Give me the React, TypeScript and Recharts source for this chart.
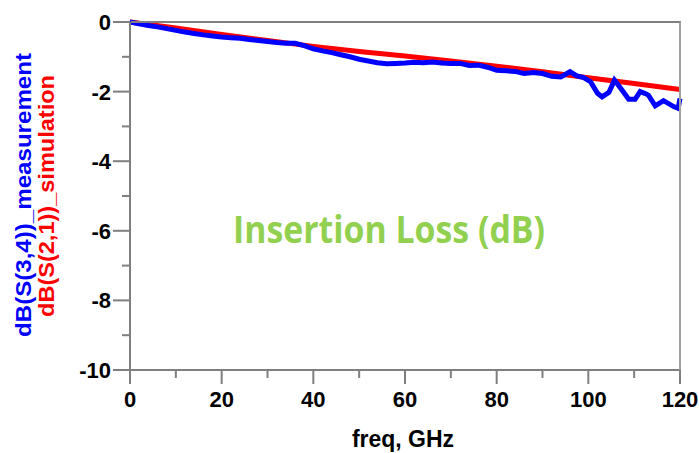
import { Customized, Line, LineChart, XAxis, YAxis } from "recharts"

// simulated S21, dB
const simFreq = [0, 10, 20, 30, 40, 50, 60, 70, 80, 90, 100, 110, 120]
const simDb = [0, -0.17, -0.36, -0.53, -0.7, -0.85, -0.98, -1.12, -1.27, -1.43, -1.6, -1.77, -1.94]

// measured S34, dB
const measFreq = [
  0, 2, 4, 6, 8, 10, 12, 14, 16, 18, 20, 22, 24, 26, 28, 30, 32, 34, 36, 38, 40, 42, 44, 46, 48, 50, 52, 54,
  56, 58, 60, 62, 64, 66, 68, 70, 72, 74, 76, 78, 80, 82, 84, 86, 88, 90, 92, 94, 96, 97.5, 99, 100.5, 102,
  103, 104.5, 105.7, 107.3, 108.8, 110.2, 111.3, 112.3, 113.1, 114.6, 116.4, 118.6, 119.6, 120,
]
const measDb = [
  0, -0.05, -0.1, -0.14, -0.19, -0.24, -0.29, -0.33, -0.37, -0.4, -0.43, -0.45, -0.47, -0.5, -0.53, -0.56,
  -0.59, -0.61, -0.61, -0.68, -0.77, -0.83, -0.88, -0.94, -1.0, -1.07, -1.12, -1.17, -1.2, -1.19, -1.18, -1.16,
  -1.17, -1.15, -1.18, -1.19, -1.19, -1.25, -1.24, -1.3, -1.39, -1.4, -1.42, -1.48, -1.45, -1.48, -1.56, -1.58,
  -1.43, -1.55, -1.6, -1.72, -2.05, -2.15, -2.02, -1.67, -1.95, -2.22, -2.22, -2.0, -2.05, -2.1, -2.41, -2.26,
  -2.43, -2.48, -2.2,
]

const xTicks = [0, 10, 20, 30, 40, 50, 60, 70, 80, 90, 100, 110, 120]
const yTicks = [-10, -9, -8, -7, -6, -5, -4, -3, -2, -1, 0]

const simData = simFreq.map((f, i) => ({ freq: f, db: simDb[i] }))
const measData = measFreq.map((f, i) => ({ freq: f, db: measDb[i] }))

const FONT = "'Liberation Sans', Arial, sans-serif"
const AXIS = "#7f7f7f"

function XTick({ x, y, payload }: any) {
  const major = payload.value % 20 === 0
  return (
    <g>
      <line x1={x} y1={y} x2={x} y2={y + (major ? 14 : 8)} stroke={AXIS} strokeWidth={2} />
      {major && (
        <text x={x} y={y + 37} textAnchor="middle" fontFamily={FONT} fontWeight="bold" fontSize={22} fill="#000">
          {payload.value}
        </text>
      )}
    </g>
  )
}

function YTick({ x, y, payload }: any) {
  const major = payload.value % 2 === 0
  return (
    <g>
      <line x1={x - (major ? 17 : 8)} y1={y} x2={x} y2={y} stroke={AXIS} strokeWidth={2} />
      {major && (
        <text x={x - 19} y={y} dy="0.36em" textAnchor="end" fontFamily={FONT} fontWeight="bold" fontSize={22} fill="#000">
          {payload.value}
        </text>
      )}
    </g>
  )
}

function Annotations() {
  return (
    <g fontFamily={FONT} fontWeight="bold">
      <text transform="translate(31,195) rotate(-90)" textAnchor="middle" fontSize={22} fill="#0000ff"
        textLength={284} lengthAdjust="spacingAndGlyphs">
        dB(S(3,4))_measurement
      </text>
      <text transform="translate(54,196) rotate(-90)" textAnchor="middle" fontSize={22} fill="#ff0000"
        textLength={242} lengthAdjust="spacingAndGlyphs">
        dB(S(2,1))_simulation
      </text>
      <text x={403} y={447} textAnchor="middle" fontSize={23} fill="#000">
        freq, GHz
      </text>
      <text x={389} y={243} textAnchor="middle" fontFamily="'Open Sans', sans-serif" fontSize={38} fill="#92d050"
        textLength={312} lengthAdjust="spacingAndGlyphs">
        Insertion Loss (dB)
      </text>
    </g>
  )
}

export default function App() {
  return (
    <div style={{ position: "fixed", left: 0, top: 0, width: 699, height: 453, background: "#fff" }}>
      <div style={{ position: "absolute", left: 0, top: 0 }}>
        <LineChart width={699} height={453} margin={{ top: 22, right: 19, left: 0, bottom: 0 }}>
          <XAxis type="number" dataKey="freq" domain={[0, 120]} ticks={xTicks} interval={0} height={83}
            tickSize={0} tickMargin={0} tick={<XTick />} axisLine={{ stroke: AXIS, strokeWidth: 2 }} />
          <YAxis type="number" domain={[-10, 0]} ticks={yTicks} interval={0} width={130}
            tickSize={0} tickMargin={0} tick={<YTick />} axisLine={{ stroke: AXIS, strokeWidth: 2 }} />
          <Line data={simData} dataKey="db" type="linear" stroke="#ff0000" strokeWidth={5} dot={false}
            isAnimationActive={false} />
          <Line data={measData} dataKey="db" type="linear" stroke="#0000ff" strokeWidth={5} dot={false}
            isAnimationActive={false} />
          <Customized component={Annotations} />
        </LineChart>
      </div>
      {/* top and right edges of the plot frame */}
      <div
        style={{
          position: "absolute",
          left: 131,
          top: 21,
          width: 550,
          height: 349,
          borderTop: `2px solid ${AXIS}`,
          borderRight: "2px solid #a0a0a0",
          boxSizing: "border-box",
          pointerEvents: "none",
        }}
      />
    </div>
  )
}
